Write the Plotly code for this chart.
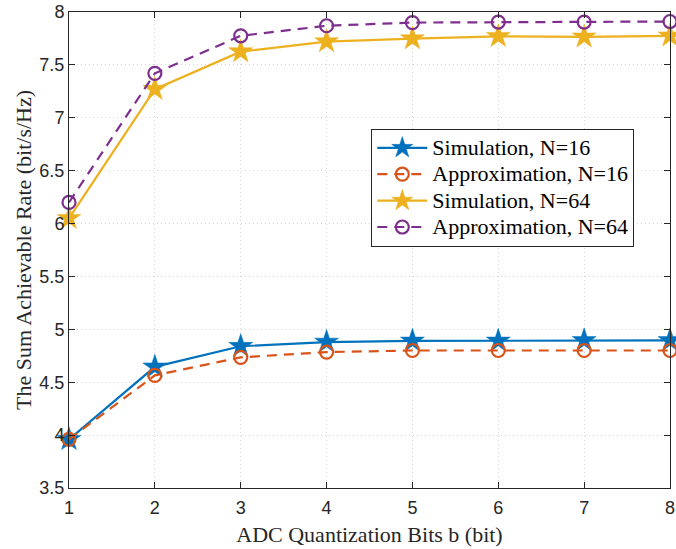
import plotly.graph_objects as go

bits = [1, 2, 3, 4, 5, 6, 7, 8]
sim_n16 = [3.96, 4.645, 4.84, 4.88, 4.89, 4.89, 4.895, 4.895]
app_n16 = [3.96, 4.565, 4.735, 4.785, 4.80, 4.80, 4.80, 4.80]
sim_n64 = [6.05, 7.27, 7.625, 7.72, 7.748, 7.77, 7.765, 7.775]
app_n64 = [6.20, 7.42, 7.775, 7.87, 7.90, 7.905, 7.905, 7.91]

names = ["Simulation, N=16", "Approximation, N=16", "Simulation, N=64", "Approximation, N=64"]
colors = ["#0072BD", "#D95319", "#EDB120", "#7E2F8E"]

fig = go.Figure()
series = [sim_n16, app_n16, sim_n64, app_n64]
for i, (ys, nm, c) in enumerate(zip(series, names, colors)):
    is_sim = i % 2 == 0
    fig.add_trace(go.Scatter(
        x=bits, y=ys, name='<span style="font-size:22px">' + nm + '</span>',
        mode="lines+markers",
        line=dict(color=c, width=2.2, dash="solid" if is_sim else "10px,7px"),
        marker=dict(symbol="star" if is_sim else "circle-open",
                    size=18 if is_sim else 13,
                    color=c, line=dict(color=c, width=2.2 if not is_sim else 0.5)),
        cliponaxis=False,
    ))

axis_common = dict(
    showline=True, linecolor="#262626", linewidth=1, mirror="ticks",
    ticks="inside", ticklen=6, tickcolor="#262626",
    showgrid=True, gridcolor="#d6d6d6", griddash="1px,3px", gridwidth=1,
    zeroline=False, ticklabeloverflow="allow", automargin=False,
    tickfont=dict(family="Liberation Sans, Arial", size=18, color="#262626"),
)

fig.update_xaxes(range=[1, 8], dtick=1, **axis_common, ticklabelstandoff=3,
                 title=dict(text="ADC Quantization Bits b (bit)",
                            font=dict(family="Liberation Serif, Times New Roman", size=22, color="#262626"),
                            standoff=10))
fig.update_yaxes(range=[3.5, 8], dtick=0.5, **axis_common,
                 title=dict(text="The Sum Achievable Rate (bit/s/Hz)",
                            font=dict(family="Liberation Serif, Times New Roman", size=22, color="#262626"),
                            standoff=1))

fig.update_layout(
    width=676, height=549,
    margin=dict(l=69, r=6, t=12, b=61),
    plot_bgcolor="white", paper_bgcolor="white",
    legend=dict(x=0.503, y=0.755, xanchor="left", yanchor="top",
                bgcolor="white", bordercolor="#262626", borderwidth=1,
                font=dict(family="Liberation Serif, Times New Roman", size=18, color="#000000"),
                tracegroupgap=0, itemwidth=50),
    showlegend=True,
)

fig.write_html("out.html", config={"displayModeBar": False},
               post_script="document.body.style.margin='0';document.body.style.overflow='hidden';")
